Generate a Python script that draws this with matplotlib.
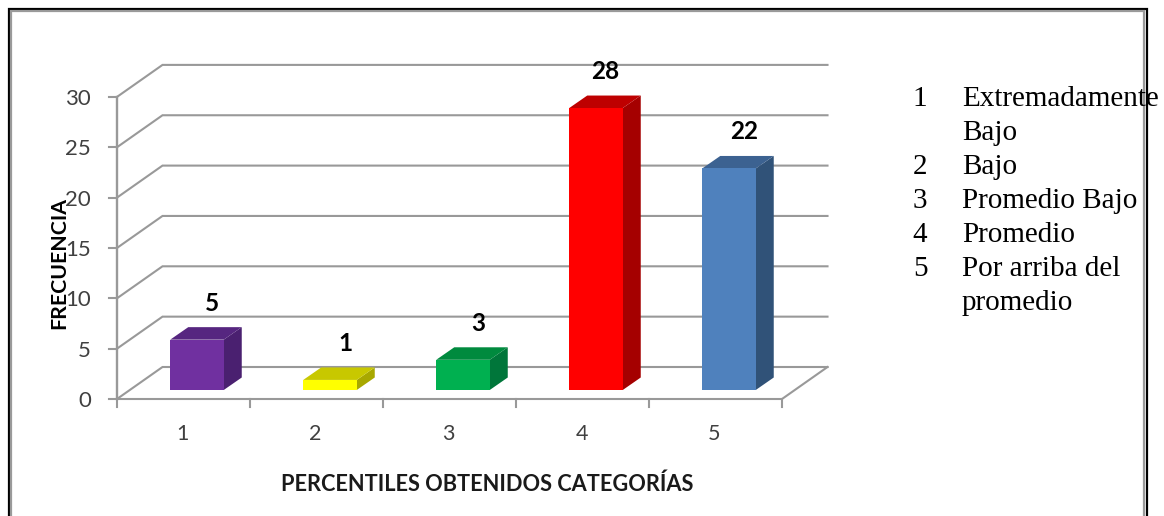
import matplotlib
matplotlib.use("Agg")
import matplotlib.pyplot as plt
from matplotlib.lines import Line2D

categories = [1, 2, 3, 4, 5]
frecuencia = [5, 1, 3, 28, 22]
y_ticks = [0, 5, 10, 15, 20, 25, 30]
front_colors = ["#7030A0", "#FFFF00", "#00B050", "#FF0000", "#4F81BD"]
top_colors = ["#562680", "#C8C800", "#008A3E", "#BE0000", "#3C6291"]
side_colors = ["#4A2070", "#A8A800", "#00763A", "#A50000", "#305278"]
legend_nums = ["1", "", "2", "3", "4", "5", ""]
legend_text = ["Extremadamente", "Bajo", "Bajo", "Promedio Bajo", "Promedio",
               "Por arriba del", "promedio"]

W, H = 1164, 516
PX_X = 133.0    # pixels per category
PX_Y = 10.07    # pixels per unit of frequency
GRID = "#999999"
TXT = "#404040"

fig = plt.figure(figsize=(W / 100, H / 100), dpi=100)
ax = fig.add_axes([0, 0, 1, 1])
left = 1 - 183.5 / PX_X
bottom = -(H - 399) / PX_Y
ax.set_xlim(left, left + W / PX_X)
ax.set_ylim(bottom, bottom + H / PX_Y)
ax.axis("off")

# depth of the floor and of the bars, in data units
back_dx = 45.5 / PX_X
back_dy = 32 / PX_Y
bar_dx = 18 / PX_X
bar_dy = 12.5 / PX_Y
shift_x = 13.5 / PX_X
shift_y = 9 / PX_Y
bar_w = 53.5 / PX_X

x0 = 0.5
x1 = 5.5

# gridlines and floor
for t in y_ticks:
    ax.plot([x0, x0 + back_dx, x1 + back_dx], [t, t + back_dy, t + back_dy],
            color=GRID, lw=1.5, zorder=1, solid_joinstyle="miter")
    ax.plot([x0 - 8 / PX_X, x0], [t, t], color=GRID, lw=1.5, zorder=2)
    ax.text(x0 - 26 / PX_X, t - 2 / PX_Y, str(t), ha="right", va="center",
            fontsize=16, family="Lato", color=TXT, zorder=3)
ax.plot([x0, x0], [0, 30], color=GRID, lw=1.7, zorder=2)
ax.plot([x0, x1, x1 + back_dx], [0, 0, back_dy], color=GRID, lw=1.5, zorder=2)
for i in range(6):
    ax.plot([x0 + i, x0 + i], [0, -8 / PX_Y], color=GRID, lw=1.5, zorder=2)

# 3d bars, their base sits 9px behind the front axis
nudge_x = [0, 0, 0, -6, 0]
for i in range(len(categories)):
    v = frecuencia[i]
    xa = categories[i] + shift_x - bar_w / 2
    xb = xa + bar_w
    ya = shift_y
    yb = ya + v
    ax.bar(categories[i] + shift_x, v, width=bar_w, bottom=ya,
           color=front_colors[i], zorder=5)
    ax.fill([xb, xb + bar_dx, xb + bar_dx, xb],
            [ya, ya + bar_dy, yb + bar_dy, yb], color=side_colors[i], lw=0, zorder=4)
    ax.fill([xa, xa + bar_dx, xb + bar_dx, xb],
            [yb, yb + bar_dy, yb + bar_dy, yb], color=top_colors[i], lw=0, zorder=4)
    ax.text(xa + bar_w / 2 + (15 + nudge_x[i]) / PX_X, yb + bar_dy + 24 / PX_Y, str(v),
            ha="center", va="center", fontsize=17.5, family="Lato", weight="bold",
            color="black", zorder=6)
    ax.text(categories[i] - 1 / PX_X, -35 / PX_Y, str(categories[i]), ha="center", va="center",
            fontsize=15.5, family="Lato", color=TXT, zorder=3)

# axis titles
ax.text(x0 - 58 / PX_X, 136 / PX_Y, "FRECUENCIA", rotation=90, ha="center", va="center",
        fontsize=15.3, family="Lato", weight="bold", color="black", zorder=7)
ax.text(3.28, -85.5 / PX_Y, "PERCENTILES OBTENIDOS CATEGORÍAS", ha="center", va="center",
        fontsize=15.7, family="Lato", weight="bold", color="#1A1A1A", zorder=7)


# frame of the picture, open at the bottom
def edge(xs, ys, color, lw):
    fig.add_artist(Line2D([p / W for p in xs], [1 - p / H for p in ys], color=color, lw=lw,
                          solid_joinstyle="miter", solid_capstyle="butt", zorder=0))


edge([8.5, 8.5, 1146.5, 1146.5], [H, 8.5, 8.5, H], "black", 1.6)
edge([11, 11, 1144, 1144], [H, 11, 11, H], "#9A9A9A", 1.6)

# legend typed next to the chart
for i in range(len(legend_text)):
    y_px = 99 + i * 34.0
    xd = left + 920 / PX_X
    xt = left + 962 / PX_X
    yd = bottom + (H - y_px) / PX_Y
    if legend_nums[i]:
        ax.text(xd, yd, legend_nums[i], ha="center", va="center", fontsize=21,
                family="Liberation Serif", color="black", zorder=8)
    ax.text(xt, yd, legend_text[i], ha="left", va="center", fontsize=21,
            family="Liberation Serif", color="black", zorder=8)

fig.savefig("out.png", dpi=100)
